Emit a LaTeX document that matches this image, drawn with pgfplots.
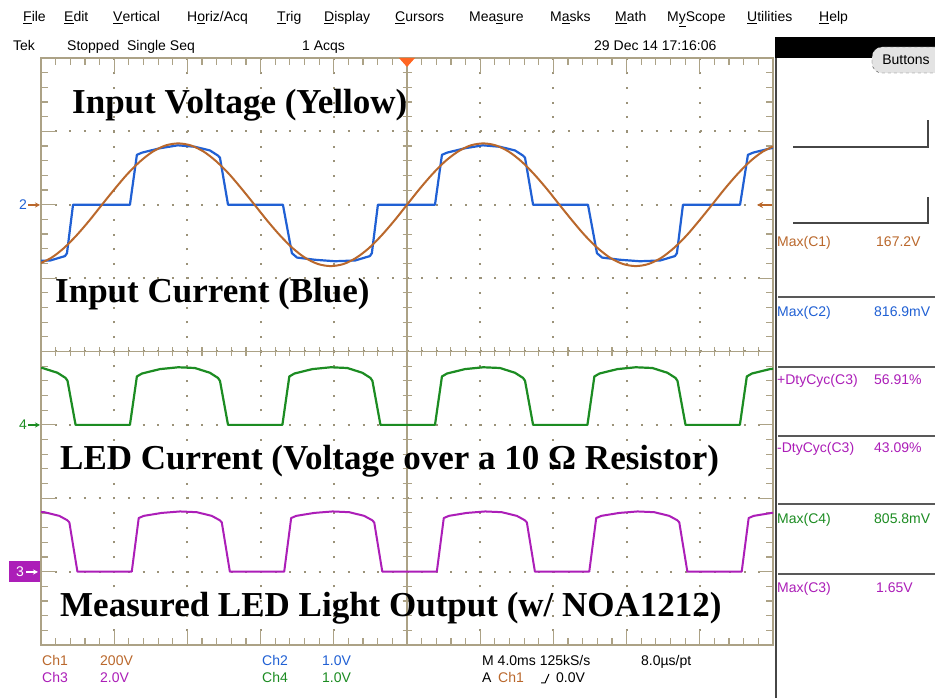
\documentclass[border=0pt]{standalone}
\usepackage{pgfplots}
\pgfplotsset{compat=1.18}
\usepackage{fontspec}
\setmainfont{Liberation Serif}
\newfontfamily\ui{Liberation Sans}
\usetikzlibrary{arrows.meta}

\definecolor{grat}{RGB}{172,162,134}
\definecolor{chone}{RGB}{186,104,44}
\definecolor{chtwo}{RGB}{32,96,212}
\definecolor{chthree}{RGB}{172,30,184}
\definecolor{chfour}{RGB}{28,140,34}
\definecolor{trig}{RGB}{255,102,34}
\definecolor{panel}{RGB}{70,70,70}

\newcommand{\uitext}{\ui\fontsize{14}{16}\selectfont}
\newcommand{\bigtext}{\bfseries\fontsize{35}{40}\selectfont}

\begin{document}
\begin{tikzpicture}[x=1pt,y=1pt]
\path[use as bounding box, fill=white] (0,0) rectangle (935,698);

% menu bar
\begin{scope}[every node/.style={anchor=base west, inner sep=0pt, font=\uitext}]
\node at (23,676) {\underline{F}ile};
\node at (64,676) {\underline{E}dit};
\node at (113,676) {\underline{V}ertical};
\node at (187,676) {H\underline{o}riz/Acq};
\node at (277,676) {\underline{T}rig};
\node at (324,676) {\underline{D}isplay};
\node at (395,676) {\underline{C}ursors};
\node at (469,676) {Mea\underline{s}ure};
\node at (550,676) {M\underline{a}sks};
\node at (615,676) {\underline{M}ath};
\node at (667,676) {M\underline{y}Scope};
\node at (747,676) {\underline{U}tilities};
\node at (819,676) {\underline{H}elp};
% status line
\node at (13,647) {Tek};
\node at (67,647) {Stopped\ \ Single Seq};
\node at (302,647) {1 Acqs};
\node at (594,647) {29 Dec 14 17:16:06};
\end{scope}

% black bar and button
\fill[black] (775,640) rectangle (935,661);
\draw[panel, dashed, fill=gray!22, rounded corners=10pt] (872,625) rectangle (945,651);
\node[font=\uitext, inner sep=0pt] at (906,638) {Buttons};

% center axis cross ticks
\foreach \k in {1,...,39} \draw[grat, line width=1.1pt] (402.5,{53+\k*14.675}) -- (411.5,{53+\k*14.675});
\foreach \k in {1,...,49} \draw[grat, line width=1.1pt] ({41+\k*14.64},342) -- ({41+\k*14.64},351);

\begin{axis}[
    at={(41pt,53pt)}, anchor=south west,
    width=732pt, height=587pt, scale only axis,
    xmin=-20, xmax=20, ymin=-4, ymax=4,
    xtick={-20,-16,...,20}, ytick={-4,-3,...,4},
    minor x tick num=4, minor y tick num=4,
    xticklabels={}, yticklabels={},
    tick pos=both, tick align=inside,
    major tick length=15pt, minor tick length=7pt,
    every tick/.style={grat, line width=1.2pt},
    axis line style={grat, line width=1.6pt},
    grid=major,
    major grid style={grat!90!black, line width=2pt, dash pattern=on 2pt off 12.66pt, dash phase=1pt},
    extra x ticks={0}, extra y ticks={0},
    extra x tick labels={}, extra y tick labels={},
    extra tick style={major grid style={solid, grat, line width=1.3pt}},
  ]

% Ch2 input current (blue)
\addplot[chtwo, line width=2.2pt, line join=round] coordinates {
(-21.69,1.25) (-20.60,1.23) (-19.50,1.24) (-18.69,1.30) (-18.58,1.34) (-18.25,2.0)
(-15.14,2.0) (-14.76,2.68) (-14.48,2.71) (-13.50,2.77) (-12.52,2.81) (-11.59,2.79)
(-10.77,2.74) (-10.33,2.67) (-10.22,2.64) (-9.78,2.0) (-6.78,2.0) (-6.29,1.34)
(-6.01,1.28) (-5.03,1.25) (-3.94,1.23) (-2.84,1.24) (-2.03,1.30) (-1.92,1.34)
(-1.59,2.0) (1.53,2.0) (1.91,2.68) (2.19,2.71) (3.17,2.77) (4.15,2.81) (5.08,2.79)
(5.90,2.74) (6.34,2.67) (6.45,2.64) (6.89,2.0) (9.89,2.0) (10.38,1.34) (10.66,1.28)
(11.64,1.25) (12.73,1.23) (13.83,1.24) (14.64,1.30) (14.75,1.34) (15.08,2.0)
(18.20,2.0) (18.63,2.68) (18.91,2.71) (19.89,2.77) (20.87,2.81)
};

% Ch1 input voltage (brown)
\addplot[chone, line width=2pt, smooth] coordinates {
(-20.14,1.192) (-19.44,1.276) (-18.75,1.409) (-18.06,1.582) (-17.36,1.784)
(-16.67,2.000) (-15.97,2.216) (-15.28,2.418) (-14.58,2.591) (-13.89,2.724)
(-13.19,2.808) (-12.50,2.836) (-11.81,2.808) (-11.11,2.724) (-10.42,2.591)
(-9.72,2.418) (-9.03,2.216) (-8.33,2.000) (-7.64,1.784) (-6.94,1.582)
(-6.25,1.409) (-5.56,1.276) (-4.86,1.192) (-4.17,1.164) (-3.47,1.192)
(-2.78,1.276) (-2.08,1.409) (-1.39,1.582) (-0.69,1.784) (0,2.000)
(0.69,2.216) (1.39,2.418) (2.08,2.591) (2.78,2.724) (3.47,2.808)
(4.17,2.836) (4.86,2.808) (5.56,2.724) (6.25,2.591) (6.94,2.418)
(7.64,2.216) (8.33,2.000) (9.03,1.784) (9.72,1.582) (10.42,1.409)
(11.11,1.276) (11.81,1.192) (12.50,1.164) (13.19,1.192) (13.89,1.276)
(14.58,1.409) (15.28,1.582) (15.97,1.784) (16.67,2.000) (17.36,2.216)
(18.06,2.418) (18.75,2.591) (19.44,2.724) (20.14,2.808)
};

% Ch4 LED current (green)
\addplot[chfour, line width=2.2pt, line join=round] coordinates {
(-21.83,-0.24) (-20.83,-0.215) (-19.92,-0.225) (-19.10,-0.29) (-18.66,-0.36) (-18.55,-0.40) (-18.11,-1.0)
(-15.14,-1.0) (-14.76,-0.34) (-14.48,-0.30) (-13.50,-0.24) (-12.50,-0.215) (-11.59,-0.225) (-10.77,-0.29) (-10.33,-0.36) (-10.22,-0.40) (-9.78,-1.0)
(-6.81,-1.0) (-6.43,-0.34) (-6.15,-0.30) (-5.17,-0.24) (-4.17,-0.215) (-3.26,-0.225) (-2.44,-0.29) (-2.00,-0.36) (-1.89,-0.40) (-1.45,-1.0)
(1.53,-1.0) (1.91,-0.34) (2.19,-0.30) (3.17,-0.24) (4.17,-0.215) (5.08,-0.225) (5.90,-0.29) (6.34,-0.36) (6.45,-0.40) (6.89,-1.0)
(9.86,-1.0) (10.24,-0.34) (10.52,-0.30) (11.50,-0.24) (12.50,-0.215) (13.41,-0.225) (14.23,-0.29) (14.67,-0.36) (14.78,-0.40) (15.22,-1.0)
(18.19,-1.0) (18.57,-0.34) (18.85,-0.30) (19.83,-0.24) (20.83,-0.215)
};

% Ch3 light output (purple)
\addplot[chthree, line width=2pt, line join=round] coordinates {
(-21.73,-2.20) (-20.73,-2.18) (-19.82,-2.19) (-19.00,-2.24) (-18.56,-2.30) (-18.45,-2.33) (-18.01,-3.0)
(-15.04,-3.0) (-14.66,-2.27) (-14.38,-2.24) (-13.40,-2.20) (-12.40,-2.18) (-11.49,-2.19) (-10.67,-2.24) (-10.23,-2.30) (-10.12,-2.33) (-9.68,-3.0)
(-6.71,-3.0) (-6.33,-2.27) (-6.05,-2.24) (-5.07,-2.20) (-4.07,-2.18) (-3.16,-2.19) (-2.34,-2.24) (-1.90,-2.30) (-1.79,-2.33) (-1.35,-3.0)
(1.63,-3.0) (2.01,-2.27) (2.29,-2.24) (3.27,-2.20) (4.27,-2.18) (5.18,-2.19) (6.00,-2.24) (6.44,-2.30) (6.55,-2.33) (6.99,-3.0)
(9.96,-3.0) (10.34,-2.27) (10.62,-2.24) (11.60,-2.20) (12.60,-2.18) (13.51,-2.19) (14.33,-2.24) (14.77,-2.30) (14.88,-2.33) (15.32,-3.0)
(18.29,-3.0) (18.67,-2.27) (18.95,-2.24) (19.93,-2.20) (20.93,-2.18)
};
\end{axis}

% trigger markers
\fill[trig] (399,640) -- (415,640) -- (407,631) -- cycle;
\draw[chone, line width=1.4pt, {Stealth[length=6pt,width=6pt]}-] (757,493) -- (772,493);

% channel markers
\node[chtwo, font=\uitext, anchor=base, inner sep=0pt] at (23,488) {2};
\draw[chone, line width=1.2pt, -{Stealth[length=5pt,width=5pt]}] (28,493) -- (40,493);
\node[chfour, font=\uitext, anchor=base, inner sep=0pt] at (23,268) {4};
\draw[chfour, line width=1.2pt, -{Stealth[length=5pt,width=5pt]}] (28,273) -- (40,273);
\fill[chthree] (9,116) rectangle (40,137);
\node[white, font=\uitext, anchor=base, inner sep=0pt] at (20,121) {3};
\draw[white, line width=1.2pt, -{Stealth[length=5pt,width=5pt]}] (26,126) -- (38,126);

% overlay captions
\begin{scope}[every node/.style={anchor=base west, inner sep=0pt, font=\bigtext}]
\node at (72,584) {Input Voltage (Yellow)};
\node at (55,395) {Input Current (Blue)};
\node at (60,228) {LED Current (Voltage over a 10 Ω Resistor)};
\node at (60,81) {Measured LED Light Output (w/ NOA1212)};
\end{scope}

% right panel
\draw[panel, line width=1.6pt] (776,0) -- (776,640);
\draw[panel, line width=1.3pt] (793,551) -- (928,551) -- (928,578);
\draw[panel, line width=1.3pt] (793,475) -- (928,475) -- (928,501);
\foreach \yy in {401,331,262,194,124} \draw[gray!70!black, line width=1.2pt] (778,\yy) -- (935,\yy);
\begin{scope}[every node/.style={anchor=base west, inner sep=0pt, font=\uitext}]
\node[chone] at (777,451) {Max(C1)};     \node[chone] at (876,451) {167.2V};
\node[chtwo] at (777,381) {Max(C2)};     \node[chtwo] at (874,381) {816.9mV};
\node[chthree] at (777,313) {+DtyCyc(C3)}; \node[chthree] at (874,313) {56.91\%};
\node[chthree] at (777,245) {-DtyCyc(C3)}; \node[chthree] at (874,245) {43.09\%};
\node[chfour] at (777,174) {Max(C4)};    \node[chfour] at (874,174) {805.8mV};
\node[chthree] at (777,105) {Max(C3)};   \node[chthree] at (876,105) {1.65V};
% bottom readout
\node[chone] at (42,32) {Ch1};   \node[chone] at (100,32) {200V};
\node[chtwo] at (262,32) {Ch2};  \node[chtwo] at (322,32) {1.0V};
\node[chthree] at (42,15) {Ch3}; \node[chthree] at (100,15) {2.0V};
\node[chfour] at (262,15) {Ch4}; \node[chfour] at (322,15) {1.0V};
\node at (482,32) {M 4.0ms 125kS/s};
\node at (641,32) {8.0µs/pt};
\node at (482,15) {A};
\node[chone] at (498,15) {Ch1};
\node at (556,15) {0.0V};
\end{scope}
\draw[line width=1pt] (541,15) -- (545,15) -- (549,24);
\end{tikzpicture}
\end{document}
